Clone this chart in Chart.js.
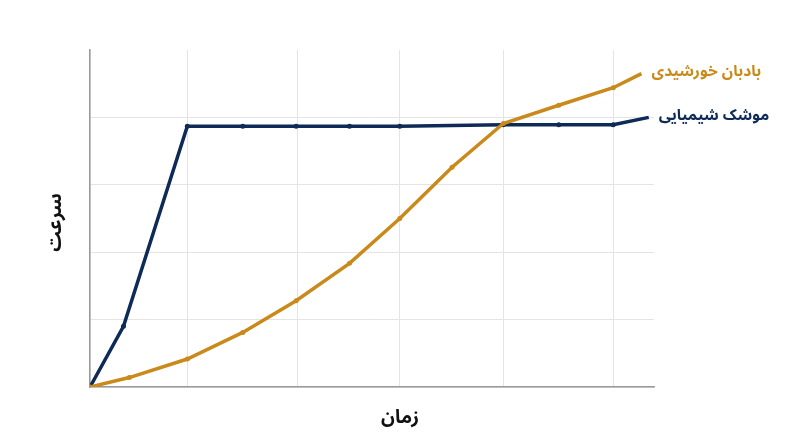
<!DOCTYPE html>
<html>
<head>
<meta charset="utf-8">
<script src="https://cdn.jsdelivr.net/npm/chart.js@4"></script>
<style>
  html, body { margin: 0; padding: 0; background: #fff; }
  #wrap { width: 800px; height: 447px; }
</style>
</head>
<body>
<div id="wrap"><canvas id="speedChart"></canvas></div>
<script>
// time (x) and speed (y) readings, no units shown on the original
var rocketTime  = [0, 0.32, 0.93, 1.46, 1.97, 2.48, 2.96, 3.95, 4.48, 5.0, 5.34];
var rocketSpeed = [0, 0.9, 3.87, 3.87, 3.87, 3.87, 3.87, 3.89, 3.89, 3.89, 4.0];

var sailTime  = [0, 0.375, 0.93, 1.46, 1.97, 2.48, 2.96, 3.46, 3.95, 4.48, 5.0, 5.27];
var sailSpeed = [0, 0.14, 0.415, 0.81, 1.28, 1.835, 2.5, 3.26, 3.91, 4.18, 4.44, 4.65];

// vertical grid line positions
var timeGrid = [0, 0.93, 1.98, 2.96, 3.95, 5.0];

var labels = {
  rocket: "موشک شیمیایی",
  sail: "بادبان خورشیدی",
  x: "زمان",
  y: "سرعت"
};

var navy = "#0e2a57";
var gold = "#c98a1b";
var fontFamily = "'Noto Sans Arabic', Vazirmatn, 'DejaVu Sans', sans-serif";

function toPoints(xs, ys) {
  return xs.map(function (x, i) { return { x: x, y: ys[i] }; });
}

function markerSize(ctx) {
  return ctx.dataIndex === ctx.dataset.data.length - 1 ? 0 : 2.5;
}

// draws the series names at the line ends and the two axis titles
var textPlugin = {
  id: 'textPlugin',
  afterDatasetsDraw: function (chart) {
    var ctx = chart.ctx;
    var area = chart.chartArea;
    ctx.save();
    ctx.textBaseline = 'middle';
    ctx.font = "bold 15.5px " + fontFamily;
    chart.data.datasets.forEach(function (ds, i) {
      var pts = chart.getDatasetMeta(i).data;
      var last = pts[pts.length - 1];
      ctx.fillStyle = ds.borderColor;
      ctx.textAlign = 'left';
      ctx.fillText(ds.label, last.x + 10, last.y);
    });

    ctx.fillStyle = "#111";
    ctx.font = "bold 19px " + fontFamily;
    ctx.textAlign = 'center';
    ctx.fillText(labels.x, 400, area.bottom + 33);

    ctx.translate(58, (area.top + area.bottom) / 2 + 4);
    ctx.rotate(-Math.PI / 2);
    ctx.fillText(labels.y, 0, 0);
    ctx.restore();
  }
};

var ctx = document.getElementById("speedChart");
var speedChart = new Chart(ctx, {
  type: 'line',
  data: {
    datasets: [
      {
        label: labels.sail,
        data: toPoints(sailTime, sailSpeed),
        borderColor: gold,
        backgroundColor: gold,
        borderWidth: 3.5,
        pointRadius: markerSize,
        pointBorderWidth: 0,
        tension: 0
      },
      {
        label: labels.rocket,
        data: toPoints(rocketTime, rocketSpeed),
        borderColor: navy,
        backgroundColor: navy,
        borderWidth: 3.5,
        pointRadius: markerSize,
        pointBorderWidth: 0,
        tension: 0
      }
    ]
  },
  options: {
    responsive: true,
    maintainAspectRatio: false,
    animation: false,
    layout: { padding: { left: 90, right: 146, top: 50, bottom: 60 } },
    plugins: {
      legend: { display: false },
      tooltip: { enabled: false }
    },
    scales: {
      x: {
        type: 'linear',
        min: 0,
        max: 5.39,
        afterBuildTicks: function (scale) {
          scale.ticks = timeGrid.map(function (v) { return { value: v }; });
        },
        ticks: { display: false },
        grid: { color: "#e4e4e4", lineWidth: 1, drawTicks: false },
        border: { color: "#9a9a9a", width: 1.5 }
      },
      y: {
        min: 0,
        max: 5,
        ticks: { display: false, stepSize: 1 },
        grid: {
          color: function (c) { return c.tick && c.tick.value === 5 ? 'rgba(0,0,0,0)' : "#e4e4e4"; },
          lineWidth: 1,
          drawTicks: false
        },
        border: { color: "#9a9a9a", width: 1.5 }
      }
    }
  },
  plugins: [textPlugin]
});
</script>
</body>
</html>
